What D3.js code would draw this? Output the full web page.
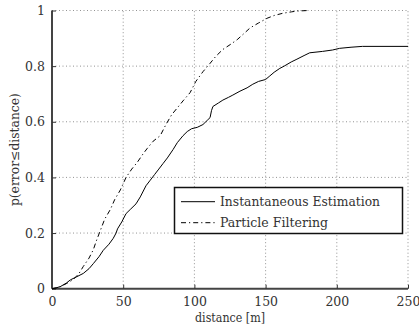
<!DOCTYPE html>
<html><head><meta charset="utf-8">
<script src="https://cdn.jsdelivr.net/npm/d3@7"></script>
<style>
body{margin:0;background:#fff;}
svg text{font-family:"DejaVu Serif",serif;fill:#333;}
</style></head>
<body><svg id="c" width="419" height="327"></svg>
<script>
const xTicks=[0,50,100,150,200,250];
const yTicks=[0,0.2,0.4,0.6,0.8,1];
const yTickLabels=["0","0.2","0.4","0.6","0.8","1"];
const seriesNames=["Instantaneous Estimation","Particle Filtering"];
const instDist=[0,3,6,10,13,17,22,26,29,33,36,40,43,45,46,49,52,55,59,62,66,69,72,75,78,81,85,88,92,95,98,102,106,109,111,112,113,117,120,124,127,132,137,141,145,150,153,156,160,163,168,172,177,181,190,197,202,210,218,250];
const instProb=[0,0.003,0.008,0.02,0.032,0.042,0.055,0.072,0.09,0.115,0.138,0.16,0.181,0.2,0.215,0.24,0.27,0.285,0.305,0.33,0.37,0.39,0.41,0.43,0.45,0.47,0.5,0.525,0.55,0.565,0.575,0.58,0.59,0.605,0.615,0.64,0.655,0.668,0.678,0.688,0.696,0.71,0.722,0.735,0.745,0.752,0.765,0.778,0.792,0.8,0.815,0.825,0.838,0.848,0.853,0.858,0.864,0.868,0.871,0.871];
const pfDist=[0,5,10,15,19,22,26,29,31,34,37,41,44,48,52,56,60,64,67,71,76,80,84,88,92,97,101,106,111,115,120,125,130,135,139,145,151,156,162,168,172,180];
const pfProb=[0,0.005,0.018,0.033,0.055,0.08,0.11,0.14,0.17,0.21,0.25,0.285,0.32,0.355,0.4,0.43,0.455,0.485,0.505,0.53,0.55,0.59,0.625,0.65,0.675,0.705,0.745,0.78,0.81,0.835,0.86,0.877,0.895,0.918,0.937,0.955,0.972,0.982,0.99,0.995,0.998,1.0];

const L=52,R=408,T=10.5,B=288.7;
const x=d3.scaleLinear().domain([0,250]).range([L,R]);
const y=d3.scaleLinear().domain([0,1]).range([B,T]);
const svg=d3.select("#c");

// grid
const g=svg.append("g");
g.selectAll(".gx").data(xTicks.filter(v=>v>0)).join("line")
 .attr("x1",d=>x(d)).attr("x2",d=>x(d)).attr("y1",B).attr("y2",T)
 .attr("stroke","#777").attr("stroke-width",0.8).attr("stroke-dasharray","1,2.5");
g.selectAll(".gy").data(yTicks.filter(v=>v>0)).join("line")
 .attr("x1",L).attr("x2",R).attr("y1",d=>y(d)).attr("y2",d=>y(d))
 .attr("stroke","#777").attr("stroke-width",0.8).attr("stroke-dasharray","1,2.5");

// axes
const FS=12.5;
const xAxis=d3.axisBottom(x).tickValues(xTicks).tickSize(-4).tickPadding(8).tickFormat(d3.format("d"));
const yAxis=d3.axisLeft(y).tickValues(yTicks).tickSize(-4).tickPadding(7).tickFormat((d,i)=>yTickLabels[i]);
const ax=svg.append("g").attr("transform",`translate(0,${B})`).call(xAxis);
const ay=svg.append("g").attr("transform",`translate(${L},0)`).call(yAxis);
[ax,ay].forEach(a=>{
  a.attr("font-family",null);
  a.select(".domain").attr("stroke","#444").attr("stroke-width",2);
  a.selectAll(".tick line").attr("stroke","#333");
  a.selectAll(".tick text").attr("font-size",FS).attr("fill","#333");
});
ax.select(".domain").attr("d",`M${L},0H${R}`);
ay.select(".domain").attr("d",`M0,${T}V${B}`);

// curves
const line=d3.line().x(d=>x(d[0])).y(d=>y(d[1]));
svg.append("path").datum(d3.zip(instDist,instProb)).attr("d",line)
 .attr("fill","none").attr("stroke","#000").attr("stroke-width",1);
svg.append("path").datum(d3.zip(pfDist,pfProb)).attr("d",line)
 .attr("fill","none").attr("stroke","#000").attr("stroke-width",1).attr("stroke-dasharray","5,3,1.2,3");

// labels
svg.append("text").attr("x",(L+R)/2).attr("y",322).attr("text-anchor","middle").attr("font-size",FS)
 .attr("textLength",70).attr("lengthAdjust","spacingAndGlyphs").text("distance [m]");
svg.append("text").attr("transform",`translate(19,${(T+B)/2}) rotate(-90)`).attr("text-anchor","middle").attr("font-size",FS)
 .attr("textLength",113).attr("lengthAdjust","spacingAndGlyphs").text("p(error≤distance)");

// legend
const lg=svg.append("g");
lg.append("rect").attr("x",174.5).attr("y",187.5).attr("width",228).attr("height",46)
 .attr("fill","#fff").attr("stroke","#111").attr("stroke-width",1.5);
const rows=[201.7,222.7];
const dashes=[null,"5,3,1.2,3"];
const lens=[160,108];
seriesNames.forEach((n,i)=>{
  lg.append("line").attr("x1",181).attr("x2",215).attr("y1",rows[i]).attr("y2",rows[i])
   .attr("stroke","#000").attr("stroke-width",1).attr("stroke-dasharray",dashes[i]);
  lg.append("text").attr("x",220).attr("y",rows[i]+4.5).attr("font-size",FS)
   .attr("textLength",lens[i]).attr("lengthAdjust","spacingAndGlyphs").text(n);
});
</script></body></html>
